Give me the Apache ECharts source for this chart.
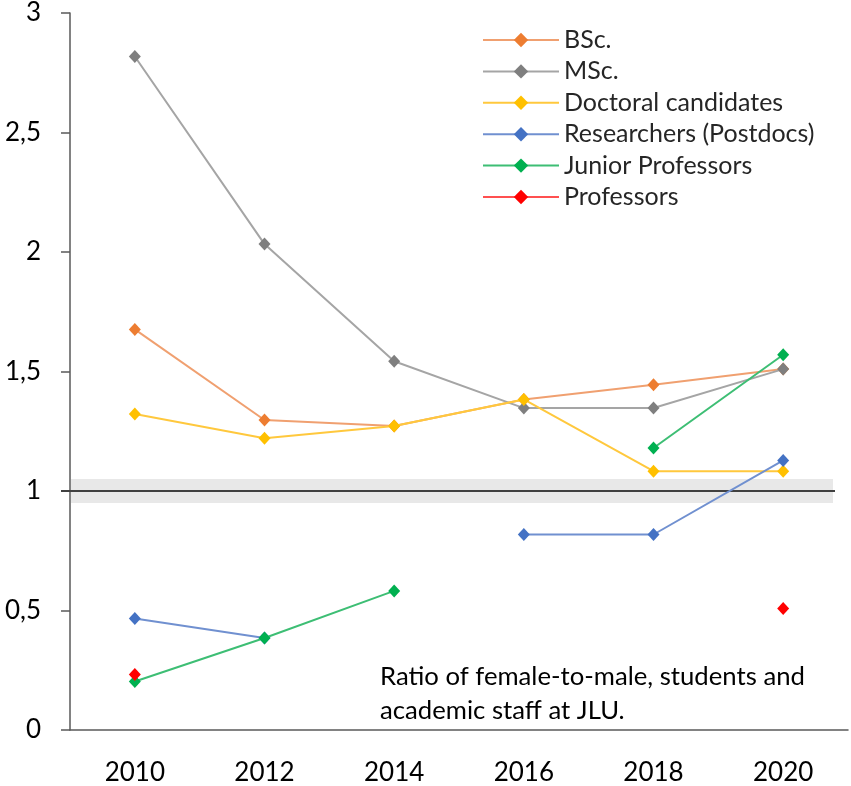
<!DOCTYPE html>
<html>
<head>
<meta charset="utf-8">
<script src="https://cdn.jsdelivr.net/npm/echarts@6/dist/echarts.min.js"></script>
<style>
  html, body { margin: 0; padding: 0; background: #fff; }
  #chart { width: 851px; height: 786px; }
</style>
</head>
<body>
<div id="chart"></div>
<script>
// years on the x axis
var years = ['2010', '2012', '2014', '2016', '2018', '2020'];

// female-to-male ratios (null = no value)
var bsc = [1.676, 1.297, 1.272, 1.383, 1.445, 1.51];
var msc = [2.818, 2.033, 1.543, 1.347, 1.347, 1.51];
var doctoral = [1.322, 1.221, 1.272, 1.383, 1.083, 1.083];
var researchers = [0.467, 0.385, null, 0.818, 0.818, 1.128];
var juniorProf = [0.203, 0.385, 0.582, null, 1.18, 1.57];
var professors = [0.232, null, null, null, null, 0.508];

var seriesNames = ['BSc.', 'MSc.', 'Doctoral candidates', 'Researchers (Postdocs)', 'Junior Professors', 'Professors'];
var markerColors = ['#ED7D31', '#7F7F7F', '#FFC000', '#4472C4', '#00B050', '#FF0000'];
var lineColors = ['#F0A070', '#A5A5A5', '#FFC83D', '#7090D0', '#3DBE74', '#FF5050'];
var seriesData = [bsc, msc, doctoral, researchers, juniorProf, professors];

// parity band and line
var bandLow = 0.95, bandHigh = 1.05, parity = 1;

var font = 'Lato, "Noto Sans", sans-serif';

var chart = echarts.init(document.getElementById('chart'));

var series = seriesData.map(function (d, i) {
    var s = {
        name: seriesNames[i],
        type: 'line',
        data: d,
        symbol: 'diamond',
        symbolSize: [12, 13],
        showSymbol: true,
        connectNulls: false,
        z: 3 + i,
        itemStyle: { color: markerColors[i] },
        lineStyle: { color: lineColors[i], width: 2 }
    };
    if (i === 0) {
        s.markArea = {
            silent: true,
            z: 1,
            itemStyle: { color: '#E8E8E8' },
            data: [[{ x: 71, yAxis: bandLow }, { x: 833, yAxis: bandHigh }]]
        };
        s.markLine = {
            silent: true,
            symbol: 'none',
            z: 2,
            label: { show: false },
            lineStyle: { color: '#404040', width: 2, type: 'solid' },
            data: [[{ x: 61, yAxis: parity }, { x: 835, yAxis: parity }]]
        };
    }
    return s;
});

var option = {
    animation: false,
    backgroundColor: '#fff',
    grid: { left: 70, right: 3, top: 13, bottom: 53 },
    legend: {
        orient: 'vertical',
        left: 477,
        top: 22,
        itemWidth: 76,
        itemHeight: 18,
        itemGap: 5.4,
        textStyle: { fontFamily: font, fontSize: 25, color: '#262626', lineHeight: 26 },
        data: seriesNames
    },
    xAxis: {
        type: 'category',
        data: years,
        boundaryGap: true,
        axisLine: { lineStyle: { color: '#595959', width: 1.5 } },
        axisTick: { show: false },
        axisLabel: { margin: 30, fontFamily: font, fontSize: 26, color: '#000' },
        splitLine: { show: false }
    },
    yAxis: {
        type: 'value',
        min: 0,
        max: 3,
        interval: 0.5,
        axisLine: { show: true, lineStyle: { color: '#595959', width: 1.5 } },
        axisTick: { show: true, inside: false, length: 9, lineStyle: { color: '#595959', width: 1.5 } },
        axisLabel: {
            margin: 29,
            fontFamily: font,
            fontSize: 26,
            color: '#000',
            formatter: function (v) { return String(v).replace('.', ','); }
        },
        splitLine: { show: false }
    },
    graphic: [{
        type: 'text',
        left: 380,
        top: 660,
        style: {
            text: 'Ratio of female-to-male, students and\nacademic staff at JLU.',
            font: '25.7px ' + font,
            fill: '#000',
            lineHeight: 34
        }
    }],
    series: series
};

chart.setOption(option);
</script>
</body>
</html>
